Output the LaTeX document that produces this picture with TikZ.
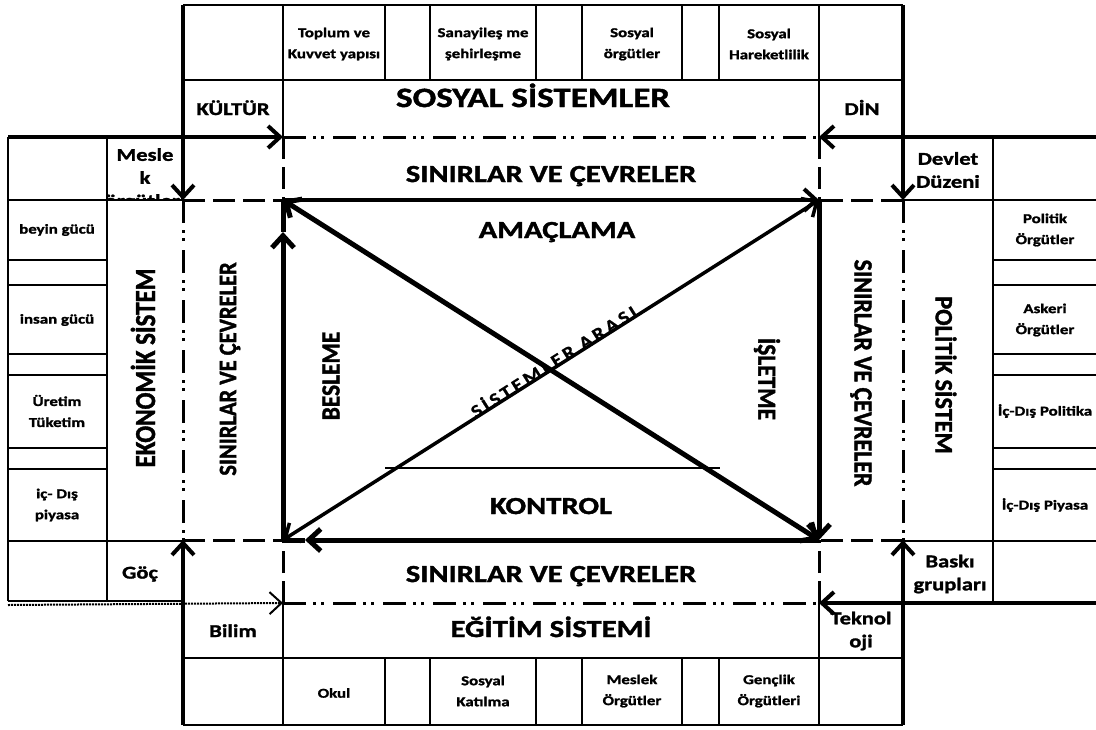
\documentclass[tikz,border=0pt]{standalone}
\usepackage{fontspec}
\usepackage{graphicx}
\setmainfont{Carlito}
\newfontfamily\fw[FakeStretch=1.25,FakeBold=1.5]{Carlito}
\newfontfamily\fr[FakeBold=1.5]{Carlito}
\newfontfamily\fsp[FakeStretch=1.15,LetterSpace=18,FakeBold=1]{Carlito}
\usetikzlibrary{arrows.meta,calc}
\begin{document}
\begin{tikzpicture}[x=1pt,y=-1pt,
  grid/.style={line width=1.8pt},
  heavy/.style={line width=4pt},
  barb/.style={-{Straight Barb[length=12pt,width=22pt]}},
  bbarb/.style={{Straight Barb[length=12pt,width=22pt]}-{Straight Barb[length=12pt,width=22pt]}},
  dd/.style={line width=3pt, dash pattern=on 23pt off 7pt on 3pt off 5pt on 3pt off 9pt},
  ds/.style={line width=3pt, dash pattern=on 22pt off 8pt},
  lbl/.style={inner sep=0pt, font=\fw\bfseries\fontsize{18}{23}\selectfont, align=center},
  big/.style={inner sep=0pt, anchor=base, font=\fw\bfseries\fontsize{24.5}{28}\selectfont},
  small/.style={inner sep=0pt, font=\fw\bfseries\fontsize{13.5}{21}\selectfont, align=center},
  rot/.style={inner sep=0pt, font=\fr\bfseries\fontsize{#1}{#1}\selectfont},
]
\fill[white] (0,0) rectangle (1096,729);
\useasboundingbox (0,0) rectangle (1096,729);

% key points
\coordinate (TL) at (283,200); \coordinate (TR) at (819,200);
\coordinate (BR) at (819,540); \coordinate (BL) at (283,540);
\coordinate (OTL) at (283,137); \coordinate (OTR) at (819,137);
\coordinate (OBR) at (819,603); \coordinate (OBL) at (283,603);
\coordinate (LT) at (183,200); \coordinate (LB) at (183,540);
\coordinate (RT) at (903,200); \coordinate (RB) at (903,540);
\coordinate (LTop) at (183,5); \coordinate (LBot) at (183,725);
\coordinate (RTop) at (903,5); \coordinate (RBot) at (903,725);
\coordinate (Lin) at (8,137); \coordinate (Rin) at (1096,137);
\coordinate (Lin2) at (8,605); \coordinate (Rin2) at (1096,603);
\coordinate (TLa) at (283,232); \coordinate (BLa) at (305,540);

% ---- table grids
% top
\draw[grid] (183,5) -- (903,5);
\draw[grid] (183,80) -- (903,80);
\draw[grid] (283,5) -- (283,137);
\draw[grid] (819,5) -- (819,137);
\foreach \x in {385,430,536,582,682,719} \draw[grid] (\x,5) -- (\x,80);
% bottom
\draw[grid] (183,658) -- (903,658);
\draw[grid] (183,725) -- (903,725);
\draw[grid] (283,603) -- (283,725);
\draw[grid] (819,603) -- (819,725);
\foreach \x in {385,430,536,582,682,719} \draw[grid] (\x,658) -- (\x,725);
% left
\draw[grid] (8,137) -- (8,601);
\draw[grid] (107,137) -- (107,601);
\foreach \y in {200,541,601} \draw[grid] (8,\y) -- (183,\y);
\foreach \y in {260,285,354,375,448,469} \draw[grid] (8,\y) -- (107,\y);
% right
\draw[grid] (993,137) -- (993,603);
\foreach \y in {200,541} \draw[grid] (903,\y) -- (1096,\y);
\foreach \y in {260,285,354,375,448,469} \draw[grid] (993,\y) -- (1096,\y);

% ---- texts
\node[small] (t1) at (334,44) {Toplum ve\\Kuvvet yapısı};
\node[small] (t2) at (483,44) {Sanayileş me\\şehirleşme};
\node[small] (t3) at (632,44) {Sosyal\\örgütler};
\node[small] (t4) at (769,44) {Sosyal\\Hareketlilik};
\node[lbl,anchor=base] (kul) at (233,115) {KÜLTÜR};
\node[big,font=\fw\bfseries\fontsize{28}{30}\selectfont] (sos) at (533,107) {SOSYAL SİSTEMLER};
\node[lbl,anchor=base] (din) at (862,115) {DİN};
\node[big] (sc1) at (551,182) {SINIRLAR VE ÇEVRELER};
\node[big] (ama) at (557,238) {AMAÇLAMA};
\node[big] (kon) at (551,514) {KONTROL};
\node[big] (sc2) at (551,582) {SINIRLAR VE ÇEVRELER};
\node[big] (egi) at (551,637) {EĞİTİM SİSTEMİ};
\node[lbl,anchor=base] (bil) at (233,637) {Bilim};
\node[lbl] (tek) at (861,631) {Teknol\\oji};
\node[small] (b1) at (334,693) {Okul};
\node[small] (b2) at (483,691) {Sosyal\\Katılma};
\node[small] (b3) at (632,691) {Meslek\\Örgütler};
\node[small] (b4) at (769,691) {Gençlik\\Örgütleri};
\begin{scope}
\clip (107,137) rectangle (183,200);
\node[lbl,anchor=north] (mes) at (145,148) {Mesle\\k\\örgütleri};
\end{scope}
\node[lbl] (dev) at (948,170) {Devlet\\Düzeni};
\node[lbl] (goc) at (140,574) {Göç};
\node[lbl] (bas) at (950,574) {Baskı\\grupları};
\node[small] (l1) at (57,230) {beyin gücü};
\node[small] (l2) at (57,320) {insan gücü};
\node[small] (l3) at (57,411) {Üretim\\Tüketim};
\node[small] (l4) at (57,505) {iç- Dış\\piyasa};
\node[small] (r1) at (1045,230) {Politik\\Örgütler};
\node[small] (r2) at (1045,320) {Askeri\\Örgütler};
\node[small] (r3) at (1045,411) {İç-Dış Politika};
\node[small] (r4) at (1045,505) {İç-Dış Piyasa};
\node[rot=29,rotate=90] (eko) at (143,368) {\scalebox{0.86}[1]{EKONOMİK SİSTEM}};
\node[rot=25,rotate=90] (sl) at (230,369) {\scalebox{0.9}[1]{SINIRLAR VE ÇEVRELER}};
\node[rot=26,rotate=90] (bes) at (331,376) {\scalebox{0.9}[1]{BESLEME}};
\node[rot=26,rotate=-90] (isl) at (767,379) {\scalebox{0.9}[1]{İŞLETME}};
\node[rot=26,rotate=-90] (sr) at (861,373) {\scalebox{0.92}[1]{SINIRLAR VE ÇEVRELER}};
\node[rot=25,rotate=-90] (pol) at (946,375) {\scalebox{0.97}[1]{POLİTİK SİSTEM}};
\node[inner sep=0pt, anchor=base, rotate=32.4, font=\fsp\bfseries\fontsize{18}{18}\selectfont] (sa) at (557,367) {SİSTEMLER ARASI};

% ---- boundary lines
\draw[dd] (OTL) -- (OTR);
\draw[dd] (OBL) -- (OBR);
\draw[dd] (LT) -- (LB);
\draw[dd] (RT) -- (RB);
\draw[ds] (OTL) -- (TL);
\draw[ds] (OTR) -- (TR);
\draw[ds] (OBL) -- (BL);
\draw[ds] (OBR) -- (BR);
\draw[ds] (LT) -- (TL);
\draw[ds] (RT) -- (TR);
\draw[ds] (LB) -- (BL);
\draw[ds] (RB) -- (BR);

% ---- outer heavy arrows
\draw[heavy,barb] (LTop) -- (LT);
\draw[heavy,barb] (LBot) -- (LB);
\draw[heavy,barb] (RTop) -- (RT);
\draw[heavy,barb] (RBot) -- (RB);
\draw[heavy,barb] (Lin) -- (OTL);
\draw[heavy,barb] (Rin) -- (OTR);
\draw[line width=2pt,densely dotted,barb] (Lin2) -- (OBL);
\draw[heavy,barb] (Rin2) -- (OBR);

% ---- inner rectangle arrows
\draw[line width=5pt] (TLa) -- (TL);
\draw[line width=5pt,barb] (BL) -- (TLa);
\draw[line width=4pt,barb] (TL) -- (TR);
\draw[line width=5pt,barb] (TR) -- (BR);
\draw[line width=5pt] (BLa) -- (BL);
\draw[line width=5pt,barb] (BR) -- (BLa);
\draw[line width=5pt,bbarb] (TL) -- (BR);
\draw[line width=3.5pt,bbarb] (BL) -- (TR);
\draw[line width=1.5pt] (385,468) -- (720,468);
\end{tikzpicture}
\end{document}
